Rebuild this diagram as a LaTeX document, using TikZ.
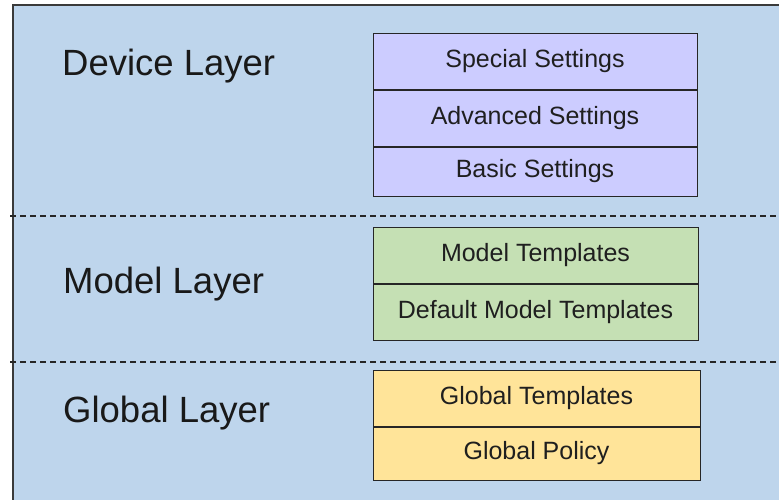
\documentclass[tikz,border=0pt]{standalone}
\usepackage{fontspec}
\setmainfont{Liberation Sans}
\usepackage{xcolor}
\usetikzlibrary{positioning}
\definecolor{layer-bg}{HTML}{BED5EC}
\definecolor{device-fill}{HTML}{CCCCFF}
\definecolor{model-fill}{HTML}{C5E0B4}
\definecolor{global-fill}{HTML}{FFE499}
\definecolor{frame-line}{HTML}{3A3A3A}

\tikzset{
  cell/.style={draw=black!85, line width=1pt, minimum height=56pt,
               inner sep=0pt, font=\fontsize{25}{27}\selectfont, text=black!88},
  layerlabel/.style={anchor=base west, inner sep=0pt,
               font=\fontsize{36.5}{39}\selectfont, text=black!90},
  divider/.style={dash pattern=on 6pt off 4pt, line width=1.1pt, black!85}
}

\begin{document}
\begin{tikzpicture}[x=1pt, y=-1pt]
    \useasboundingbox (0,0) rectangle (779,499);
    \fill[white] (0,0) rectangle (779,499);
    \fill[layer-bg] (13,5) rectangle (790,510);
    \draw[frame-line, line width=1.6pt] (13,510) -- (13,5) -- (790,5);
    % separators
    \draw[divider] (10,216) -- (779,216);
    \draw[divider] (10,362) -- (779,362);
    % device layer
    \node[layerlabel] (devlabel) at (62,75) {Device Layer};
    \node[cell, fill=device-fill, minimum width=324pt] (special) at (535,61) {Special Settings};
    \node[cell, fill=device-fill, minimum width=324pt, below=0pt of special] (advanced) {Advanced Settings};
    \node[cell, fill=device-fill, minimum width=324pt, minimum height=49pt, below=0pt of advanced] (basic) {Basic Settings};
    % model layer
    \node[layerlabel] (modlabel) at (63,293) {Model Layer};
    \node[cell, fill=model-fill, minimum width=325pt] (modeltpl) at (535.5,255.5) {Model Templates};
    \node[cell, fill=model-fill, minimum width=325pt, below=0pt of modeltpl] (defmodel) {Default Model Templates};
    % global layer
    \node[layerlabel] (glolabel) at (63,422) {Global Layer};
    \node[cell, fill=global-fill, minimum width=327pt] (globaltpl) at (536.5,398) {Global Templates};
    \node[cell, fill=global-fill, minimum width=327pt, minimum height=53pt, below=0pt of globaltpl] (globalpol) {Global Policy};
\end{tikzpicture}
\end{document}
